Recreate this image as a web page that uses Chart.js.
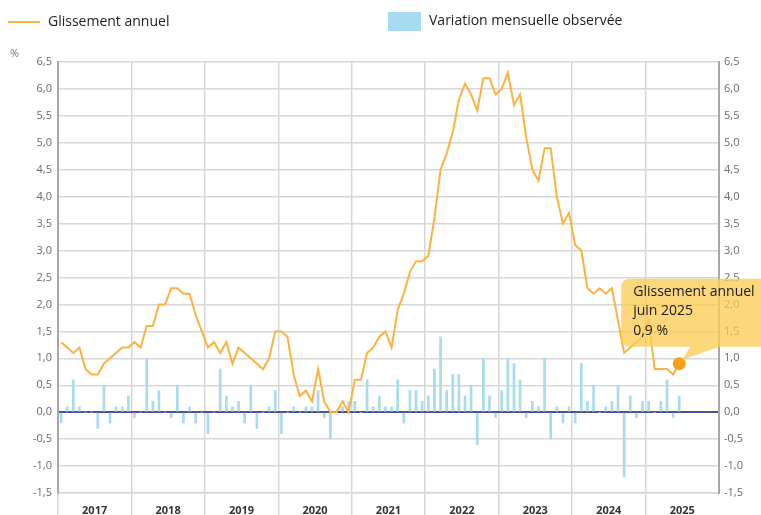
<!DOCTYPE html>
<html lang="fr">
<head>
<meta charset="utf-8">
<title>Glissement annuel et variation mensuelle</title>
<script src="https://cdn.jsdelivr.net/npm/chart.js@4.4.1/dist/chart.umd.min.js"></script>
<style>
  html, body { margin: 0; padding: 0; background: #fff; }
  #wrap { position: relative; width: 761px; height: 515px; font-family: "Open Sans", sans-serif; }
  #wrap canvas { position: absolute; left: 0; top: 0; }
  .leg { position: absolute; font-size: 14px; color: #222; line-height: 20px; white-space: nowrap; }
  .leg i { display: inline-block; vertical-align: middle; margin-right: 8px; }
  #unite { position: absolute; left: 10px; top: 45px; font-size: 11px; color: #777; }
</style>
</head>
<body>
<div id="wrap">
  <canvas id="myChart" width="761" height="515"></canvas>
  <div class="leg" style="left:8px; top:11px;"><i style="width:32px; height:2px; background:#fdb23f;"></i>Glissement annuel</div>
  <div class="leg" style="left:388px; top:10px;"><i style="width:33px; height:19px; background:#a7dbf0;"></i>Variation mensuelle observée</div>
  <div id="unite">%</div>
</div>
<script>
// valeurs, de janvier 2017 a juin 2025
const annees = [2017, 2018, 2019, 2020, 2021, 2022, 2023, 2024, 2025];
const mois = ['janvier', 'février', 'mars', 'avril', 'mai', 'juin', 'juillet', 'août', 'septembre', 'octobre', 'novembre', 'décembre'];

const glissementAnnuel = [
  1.3, 1.2, 1.1, 1.2, 0.8, 0.7, 0.7, 0.9, 1.0, 1.1, 1.2, 1.2,
  1.3, 1.2, 1.6, 1.6, 2.0, 2.0, 2.3, 2.3, 2.2, 2.2, 1.8, 1.5,
  1.2, 1.3, 1.1, 1.3, 0.9, 1.2, 1.1, 1.0, 0.9, 0.8, 1.0, 1.5,
  1.5, 1.4, 0.7, 0.3, 0.4, 0.2, 0.8, 0.2, 0.0, 0.0, 0.2, 0.0,
  0.6, 0.6, 1.1, 1.2, 1.4, 1.5, 1.2, 1.9, 2.2, 2.6, 2.8, 2.8,
  2.9, 3.6, 4.5, 4.8, 5.2, 5.8, 6.1, 5.9, 5.6, 6.2, 6.2, 5.9,
  6.0, 6.3, 5.7, 5.9, 5.1, 4.5, 4.3, 4.9, 4.9, 4.0, 3.5, 3.7,
  3.1, 3.0, 2.3, 2.2, 2.3, 2.2, 2.3, 1.7, 1.1, 1.2, 1.3, 1.4,
  1.7, 0.8, 0.8, 0.8, 0.7, 0.9
];

const variationMensuelle = [
  -0.2, 0.1, 0.6, 0.1, 0.0, 0.0, -0.3, 0.5, -0.2, 0.1, 0.1, 0.3,
  -0.1, 0.0, 1.0, 0.2, 0.4, 0.0, -0.1, 0.5, -0.2, 0.1, -0.2, 0.0,
  -0.4, 0.0, 0.8, 0.3, 0.1, 0.2, -0.2, 0.5, -0.3, 0.0, 0.1, 0.4,
  -0.4, 0.0, 0.1, 0.0, 0.1, 0.1, 0.4, -0.1, -0.5, 0.0, 0.1, 0.2,
  0.2, 0.0, 0.6, 0.1, 0.3, 0.1, 0.1, 0.6, -0.2, 0.4, 0.4, 0.2,
  0.3, 0.8, 1.4, 0.4, 0.7, 0.7, 0.3, 0.5, -0.6, 1.0, 0.3, -0.1,
  0.4, 1.0, 0.9, 0.6, -0.1, 0.2, 0.1, 1.0, -0.5, 0.1, -0.2, 0.1,
  -0.2, 0.9, 0.2, 0.5, 0.0, 0.1, 0.2, 0.5, -1.2, 0.3, -0.1, 0.2,
  0.2, 0.0, 0.2, 0.6, -0.1, 0.3
];

const labels = annees.flatMap(a => mois.map(m => m + ' ' + a));
const dernier = glissementAnnuel.length - 1;

const GRIS = '#d7d7d7';
const virgule = v => v.toFixed(1).replace('.', ',');

Chart.defaults.font.family = '"Open Sans", sans-serif';

// bulle jaune sur le dernier point
const bulle = {
  id: 'bulle',
  afterDraw(chart) {
    const p = chart.getDatasetMeta(0).data[dernier];
    if (!p) return;
    const ctx = chart.ctx;
    const x = p.x, y = p.y;
    const g = x - 58, d = x + 100, h = y - 85, b = y - 17, r = 8;
    ctx.save();
    ctx.beginPath();
    ctx.moveTo(g + r, h);
    ctx.lineTo(d - r, h);
    ctx.arcTo(d, h, d, h + r, r);
    ctx.lineTo(d, b - r);
    ctx.arcTo(d, b, d - r, b, r);
    ctx.lineTo(x + 40, b);
    ctx.lineTo(x + 3, y - 4);
    ctx.lineTo(x + 11, b);
    ctx.lineTo(g + r, b);
    ctx.arcTo(g, b, g, b - r, r);
    ctx.lineTo(g, h + r);
    ctx.arcTo(g, h, g + r, h, r);
    ctx.closePath();
    ctx.fillStyle = 'rgba(251, 205, 85, 0.78)';
    ctx.fill();
    ctx.fillStyle = '#1a1a1a';
    ctx.font = '14px "Open Sans", sans-serif';
    ctx.textBaseline = 'middle';
    const lignes = [
      chart.data.datasets[0].label,
      mois[dernier % 12] + ' ' + annees[Math.floor(dernier / 12)],
      virgule(glissementAnnuel[dernier]) + ' %'
    ];
    lignes.forEach((t, k) => ctx.fillText(t, g + 12, h + 13 + k * 19.5));
    ctx.restore();
  }
};

const ctx = document.querySelector('#myChart').getContext('2d');

const chart = new Chart(ctx, {
  type: 'bar',
  data: {
    labels: labels,
    datasets: [
      {
        type: 'line',
        label: 'Glissement annuel',
        data: glissementAnnuel,
        borderColor: '#fdb23f',
        borderWidth: 2,
        tension: 0,
        pointRadius: c => c.dataIndex === dernier ? 5.5 : 0,
        pointBackgroundColor: '#f7a11a',
        pointBorderColor: '#f7a11a',
        order: 1,
        yAxisID: 'y'
      },
      {
        type: 'bar',
        label: 'Variation mensuelle observée',
        data: variationMensuelle,
        backgroundColor: '#a7dbf0',
        barThickness: 2,
        order: 2,
        yAxisID: 'y'
      }
    ]
  },
  options: {
    responsive: false,
    animation: false,
    layout: { padding: { left: 6, right: 0, top: 62, bottom: 0 } },
    plugins: {
      legend: { display: false },
      tooltip: { enabled: false }
    },
    scales: {
      x: {
        offset: true,
        grid: {
          offset: true,
          color: c => (c.index !== undefined && c.index % 12 === 0) ? GRIS : 'transparent',
          lineWidth: 1.5,
          tickLength: 22
        },
        border: { color: GRIS, width: 1.5 },
        ticks: {
          autoSkip: false,
          maxRotation: 0,
          labelOffset: 3,
          padding: -11,
          color: '#333',
          font: { size: 11, weight: 'bold' },
          callback: (v, i) => i % 12 === 5 ? String(annees[Math.floor(i / 12)]) : ''
        },
        afterFit: s => { s.height = 22; }
      },
      y: {
        min: -1.5,
        max: 6.5,
        ticks: {
          stepSize: 0.5,
          padding: 6,
          color: '#6a6a6a',
          font: { size: 11 },
          callback: v => virgule(v)
        },
        grid: {
          color: c => c.tick.value === 0 ? '#4b4e98' : GRIS,
          lineWidth: c => c.tick.value === 0 ? 2 : 1.5,
          drawTicks: false
        },
        border: { color: '#a8a8a8', width: 2 },
        afterFit: s => { s.width = 52; }
      },
      y2: {
        position: 'right',
        min: -1.5,
        max: 6.5,
        ticks: {
          stepSize: 0.5,
          padding: 5,
          color: '#6a6a6a',
          font: { size: 11 },
          callback: v => virgule(v)
        },
        grid: { display: false, drawTicks: false },
        border: { color: '#a8a8a8', width: 2 },
        afterFit: s => { s.width = 42; }
      }
    }
  },
  plugins: [bulle]
});
</script>
</body>
</html>
